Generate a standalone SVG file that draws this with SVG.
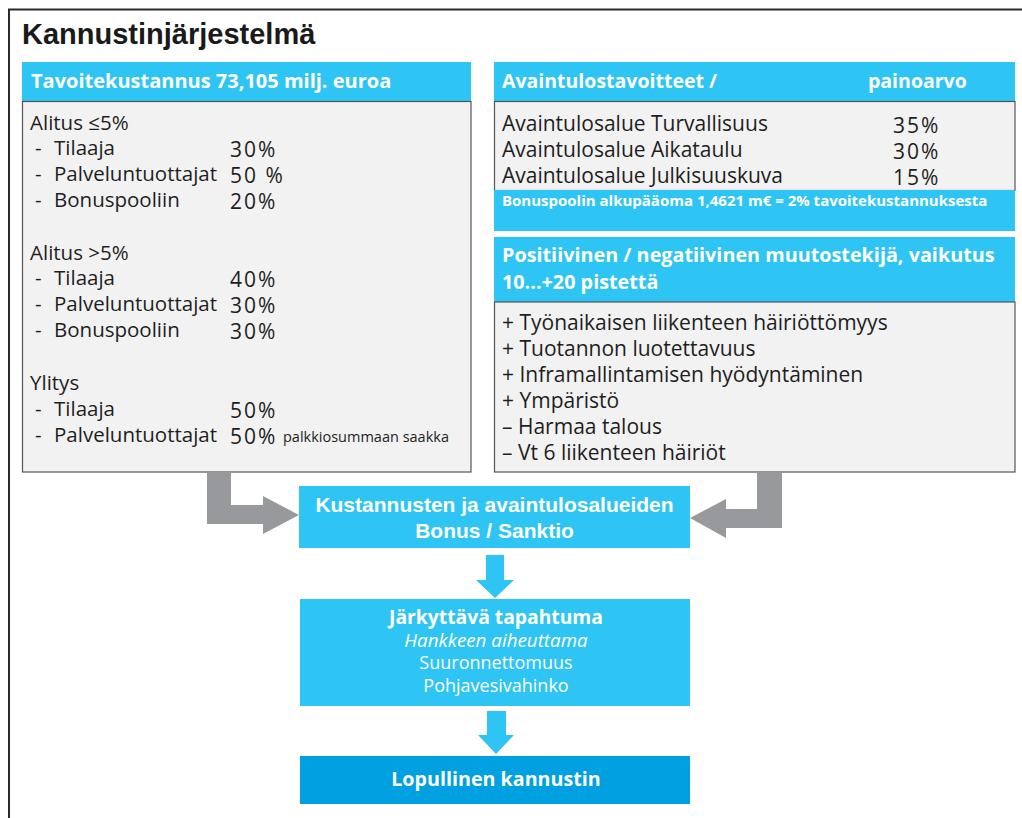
<svg xmlns="http://www.w3.org/2000/svg" width="1022" height="818" viewBox="0 0 1022 818">
<style>
.frame{fill:none;stroke:#2b2b2b;stroke-width:2}
.hdr{fill:#2ec5f4}
.body{fill:#f2f2f2;stroke:#555;stroke-width:1.2}
.dark{fill:#00a0e1}
.gray{fill:#98999c}
.cy{fill:#2ec5f4}
.t{font-family:"Open Sans","Liberation Sans",sans-serif;fill:#1e1e1e;font-size:20.5px}
.r{font-size:21px}
.p{font-size:21px;letter-spacing:2px}
.th{font-family:"Open Sans","Liberation Sans",sans-serif;fill:#fff;font-weight:bold;font-size:19.5px}
.tm{font-family:"Liberation Sans",Arial,sans-serif;fill:#fff;font-weight:bold;font-size:21px}
.tw{font-family:"Open Sans","Liberation Sans",sans-serif;fill:#fff;font-size:18px}
.title{font-family:"Liberation Sans",Arial,sans-serif;font-weight:bold;font-size:29px;fill:#1a1a1a}
</style>
<rect width="1022" height="818" fill="#fff"/>
<path class="frame" d="M9,818 V9.5 H1022"/>
<text class="title" x="22" y="44">Kannustinjärjestelmä</text>

<g id="cost">
<rect class="hdr" x="22" y="62" width="449" height="39"/>
<rect class="body" x="22.5" y="101.5" width="448.5" height="370.5"/>
<text class="th" x="31" y="88" style="font-size:20px">Tavoitekustannus 73,105 milj. euroa</text>
<text class="t" x="30" y="130">Alitus ≤5%</text>
<text class="t" x="35" y="155">-</text><text class="t" x="54" y="155">Tilaaja</text><text class="t p" x="230" y="157">30%</text>
<text class="t" x="35" y="181">-</text><text class="t" x="54" y="181">Palveluntuottajat</text><text class="t p" x="230" y="183">50 %</text>
<text class="t" x="35" y="207">-</text><text class="t" x="54" y="207">Bonuspooliin</text><text class="t p" x="230" y="209">20%</text>
<text class="t" x="30" y="260">Alitus &gt;5%</text>
<text class="t" x="35" y="285">-</text><text class="t" x="54" y="285">Tilaaja</text><text class="t p" x="230" y="287">40%</text>
<text class="t" x="35" y="311">-</text><text class="t" x="54" y="311">Palveluntuottajat</text><text class="t p" x="230" y="313">30%</text>
<text class="t" x="35" y="337">-</text><text class="t" x="54" y="337">Bonuspooliin</text><text class="t p" x="230" y="339">30%</text>
<text class="t" x="30" y="390">Ylitys</text>
<text class="t" x="35" y="416">-</text><text class="t" x="54" y="416">Tilaaja</text><text class="t p" x="230" y="418">50%</text>
<text class="t" x="35" y="442">-</text><text class="t" x="54" y="442">Palveluntuottajat</text><text class="t p" x="230" y="444">50%</text>
<text class="t" x="283" y="442" style="font-size:14.5px">palkkiosummaan saakka</text>
</g>

<g id="kpi">
<rect class="hdr" x="494" y="62" width="521" height="39"/>
<rect class="body" x="494.5" y="101.5" width="520.5" height="89"/>
<rect class="hdr" x="494" y="190" width="521" height="41"/>
<text class="th" x="502" y="88">Avaintulostavoitteet /</text>
<text class="th" x="868" y="88">painoarvo</text>
<text class="t r" x="502" y="131">Avaintulosalue Turvallisuus</text><text class="t p" x="893" y="133">35%</text>
<text class="t r" x="502" y="157">Avaintulosalue Aikataulu</text><text class="t p" x="893" y="159">30%</text>
<text class="t r" x="502" y="183">Avaintulosalue Julkisuuskuva</text><text class="t p" x="893" y="185">15%</text>
<text class="th" x="502" y="206" style="font-size:15px">Bonuspoolin alkupääoma 1,4621 m€ = 2% tavoitekustannuksesta</text>
</g>

<g id="modifier">
<rect class="hdr" x="494" y="237" width="521" height="65"/>
<rect class="body" x="494.5" y="302" width="520.5" height="170"/>
<text class="th" x="502" y="262" style="font-size:19.8px">Positiivinen / negatiivinen muutostekijä, vaikutus</text>
<text class="th" x="502" y="289" style="font-size:19.8px">10...+20 pistettä</text>
<text class="t r" x="502" y="330">+ Työnaikaisen liikenteen häiriöttömyys</text>
<text class="t r" x="502" y="356">+ Tuotannon luotettavuus</text>
<text class="t r" x="502" y="382">+ Inframallintamisen hyödyntäminen</text>
<text class="t r" x="502" y="408">+ Ympäristö</text>
<text class="t r" x="502" y="434">– Harmaa talous</text>
<text class="t r" x="502" y="460">– Vt 6 liikenteen häiriöt</text>
</g>

<g id="bonus">
<rect class="hdr" x="299" y="486" width="391" height="62"/>
<text class="tm" x="494.5" y="512" text-anchor="middle">Kustannusten ja avaintulosalueiden</text>
<text class="tm" x="494.5" y="538" text-anchor="middle">Bonus / Sanktio</text>
</g>

<g id="event">
<rect class="hdr" x="300" y="599" width="390" height="107"/>
<text class="th" x="496" y="624" text-anchor="middle" style="font-size:19.3px">Järkyttävä tapahtuma</text>
<text class="tw" x="496" y="647" text-anchor="middle" font-style="italic" style="font-size:18.8px">Hankkeen aiheuttama</text>
<text class="tw" x="496" y="669" text-anchor="middle">Suuronnettomuus</text>
<text class="tw" x="496" y="692" text-anchor="middle">Pohjavesivahinko</text>
</g>

<g id="final">
<rect class="dark" x="300" y="756" width="390" height="48"/>
<text class="th" x="496" y="786" text-anchor="middle" style="font-size:19.7px">Lopullinen kannustin</text>
</g>

<g id="connectors">
<polygon class="gray" points="207,472 231,472 231,505 263,505 263,496 299,515 263,534 263,524 207,524"/>
<polygon class="gray" points="757,472 782,472 782,528 726,528 726,538 690,518 726,499 726,509 757,509"/>
<polygon class="cy" points="486,555 504,555 504,580 514,580 495,598 476,580 486,580"/>
<polygon class="cy" points="487,711 506,711 506,735 514,735 496,754 478,735 487,735"/>
</g>
</svg>
